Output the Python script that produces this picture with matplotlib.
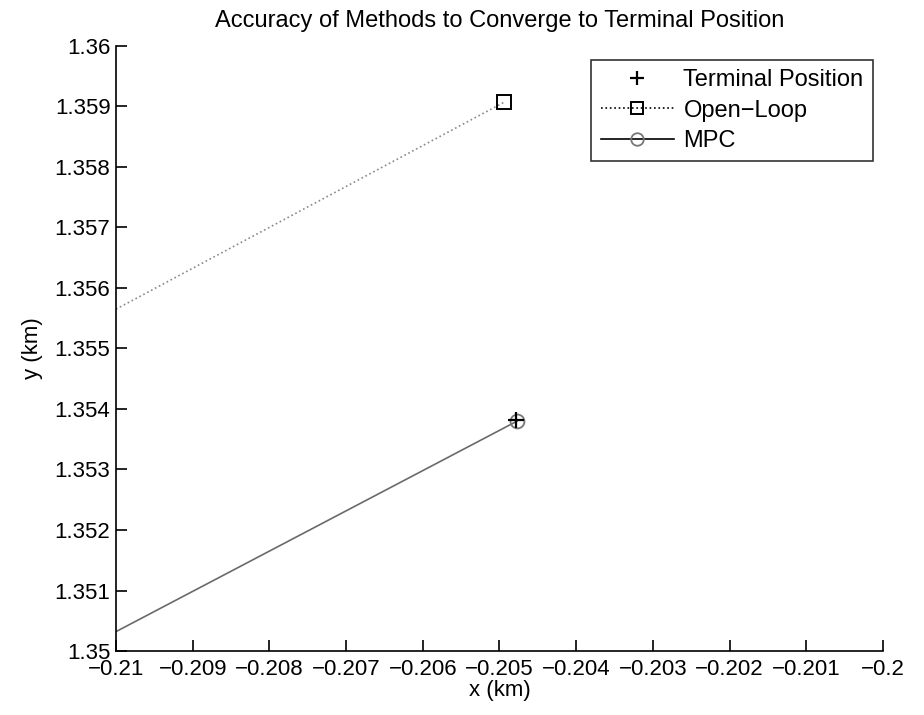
import matplotlib
matplotlib.use('Agg')
import matplotlib.pyplot as plt

# 终端位置与两种方法的轨迹末段 (km)
terminal_x = [-0.20478]
terminal_y = [1.35381]

open_loop_x = [-0.2100, -0.20494]
open_loop_y = [1.35565, 1.35907]

mpc_x = [-0.2100, -0.20477]
mpc_y = [1.35032, 1.35380]

x_ticks = [-0.21, -0.209, -0.208, -0.207, -0.206, -0.205, -0.204, -0.203, -0.202, -0.201, -0.2]
x_labels = ['\u22120.21', '\u22120.209', '\u22120.208', '\u22120.207', '\u22120.206', '\u22120.205',
            '\u22120.204', '\u22120.203', '\u22120.202', '\u22120.201', '\u22120.2']
y_ticks = [1.35, 1.351, 1.352, 1.353, 1.354, 1.355, 1.356, 1.357, 1.358, 1.359, 1.36]
y_labels = ['1.35', '1.351', '1.352', '1.353', '1.354', '1.355', '1.356', '1.357', '1.358', '1.359', '1.36']

plt.rcParams['font.family'] = ['Liberation Sans', 'DejaVu Sans']

fig = plt.figure(figsize=(9.24, 7.15), dpi=100)
ax = fig.add_axes([0.1255, 0.0895, 0.8301, 0.8462])

# 终端位置 (+)
ax.plot(terminal_x, terminal_y, linestyle='none', marker='+', markersize=11,
        markeredgewidth=1.6, color='black', zorder=4)
# 开环 (点线 + 方块)
ax.plot(open_loop_x, open_loop_y, linestyle=':', color='#8a8a8a', linewidth=1.2, zorder=2)
ax.plot(open_loop_x[-1:], open_loop_y[-1:], linestyle='none', marker='s', markersize=10,
        markerfacecolor='none', markeredgecolor='black', markeredgewidth=1.4, zorder=3)
# MPC (实线 + 圆)
ax.plot(mpc_x, mpc_y, linestyle='-', color='#6a6a6a', linewidth=1.2, zorder=2)
ax.plot(mpc_x[-1:], mpc_y[-1:], linestyle='none', marker='o', markersize=10,
        markerfacecolor='none', markeredgecolor='#777777', markeredgewidth=1.3, zorder=3)

# 图例代理
h_term = plt.Line2D([], [], linestyle='none', marker='+', markersize=10, markeredgewidth=1.6, color='black')
h_open = plt.Line2D([], [], linestyle=':', color='black', linewidth=1.2, marker='s', markersize=9,
                    markerfacecolor='none', markeredgecolor='black', markeredgewidth=1.4)
h_mpc = plt.Line2D([], [], linestyle='-', color='black', linewidth=1.2, marker='o', markersize=9,
                   markerfacecolor='none', markeredgecolor='#777777', markeredgewidth=1.3)
leg = ax.legend([h_term, h_open, h_mpc], ['Terminal Position', 'Open\u2212Loop', 'MPC'],
                loc='upper right', bbox_to_anchor=(0.987, 0.977), fontsize=17, frameon=True,
                fancybox=False, borderpad=0.4, labelspacing=0.35, handlelength=3.1,
                handletextpad=0.4, borderaxespad=0.0)
leg.get_frame().set_edgecolor('black')
leg.get_frame().set_linewidth(1.2)

ax.set_xlim(-0.21, -0.2)
ax.set_ylim(1.35, 1.36)
ax.set_xticks(x_ticks)
ax.set_xticklabels(x_labels)
ax.set_yticks(y_ticks)
ax.set_yticklabels(y_labels)
ax.tick_params(direction='in', length=8, width=1.2, labelsize=16, pad=4,
               top=False, right=False)
ax.tick_params(axis='x', pad=6)
ax.spines['top'].set_visible(False)
ax.spines['right'].set_visible(False)
ax.spines['left'].set_linewidth(1.2)
ax.spines['bottom'].set_linewidth(1.2)

ax.set_title('Accuracy of Methods to Converge to Terminal Position', fontsize=17, pad=14)
ax.set_xlabel('x (km)', fontsize=16, labelpad=0)
ax.set_ylabel('y (km)', fontsize=16, labelpad=8)

plt.savefig('out.png', dpi=100)
